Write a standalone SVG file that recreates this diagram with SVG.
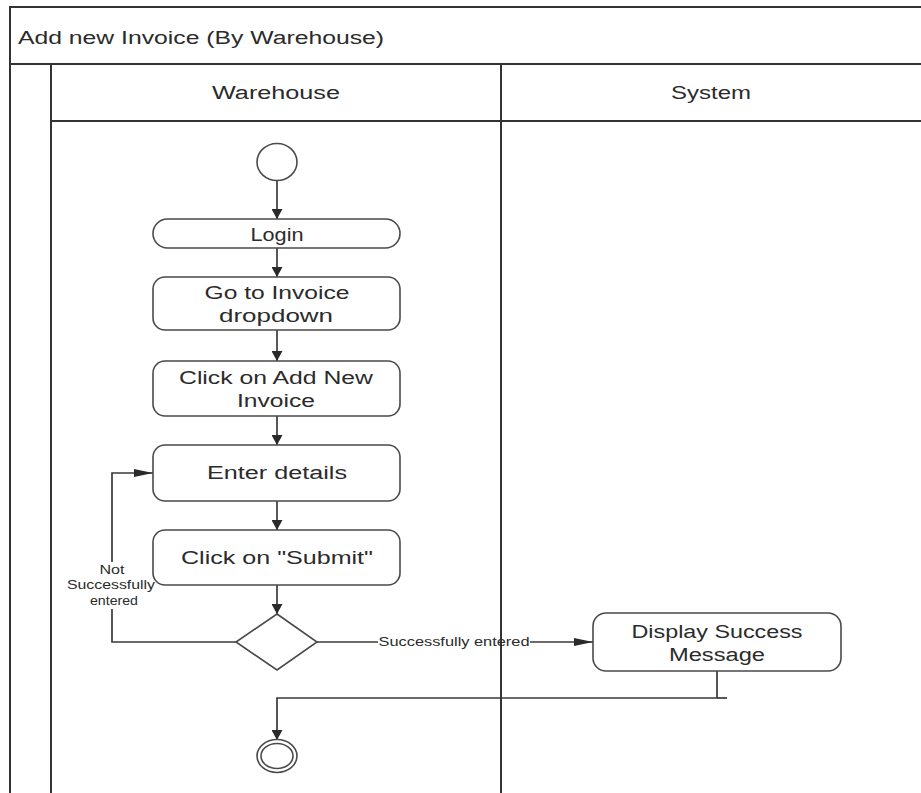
<svg xmlns="http://www.w3.org/2000/svg" width="921" height="793" viewBox="0 0 921 793">
  <style>
    .frame { fill: none; stroke: #333333; stroke-width: 2; }
    .node { fill: #ffffff; stroke: #4a4a4a; stroke-width: 1.6; }
    .edge { fill: none; stroke: #3a3a3a; stroke-width: 1.7; }
    .label { font-family: "Liberation Sans", Arial, sans-serif; fill: #2b2b2b; text-anchor: middle; }
    .nodeText { font-size: 18px; }
    .small { font-size: 12.5px; }
  </style>
  <defs>
    <marker id="arrow" viewBox="0 0 10 10" refX="10" refY="5" markerWidth="10" markerHeight="11" markerUnits="userSpaceOnUse" orient="auto" preserveAspectRatio="none">
      <path d="M0,0 L10,5 L0,10 Z" fill="#2a2a2a"/>
    </marker>
    <marker id="arrowH" viewBox="0 0 10 10" refX="10" refY="5" markerWidth="19" markerHeight="8" markerUnits="userSpaceOnUse" orient="auto" preserveAspectRatio="none">
      <path d="M0,0 L10,5 L0,10 Z" fill="#2a2a2a"/>
    </marker>
  </defs>

  <rect width="921" height="793" fill="#ffffff"/>

  <!-- pool and swimlanes -->
  <g id="pool">
    <path class="frame" d="M10,793 V7 H921"/>
    <path class="frame" d="M10,64 H921"/>
    <path class="frame" d="M51,64 V793"/>
    <path class="frame" d="M51,121 H921"/>
    <path class="frame" d="M501,64 V793"/>
    <text class="label" x="18" y="44" font-size="18" style="text-anchor:start" textLength="366" lengthAdjust="spacingAndGlyphs">Add new Invoice (By Warehouse)</text>
    <text class="label" x="276" y="99" font-size="18" textLength="128" lengthAdjust="spacingAndGlyphs">Warehouse</text>
    <text class="label" x="711" y="99" font-size="18" textLength="80" lengthAdjust="spacingAndGlyphs">System</text>
  </g>

  <!-- connectors -->
  <g id="connectors">
    <line class="edge" x1="277" y1="181" x2="277" y2="219" marker-end="url(#arrow)"/>
    <line class="edge" x1="277" y1="248" x2="277" y2="277" marker-end="url(#arrow)"/>
    <line class="edge" x1="277" y1="330" x2="277" y2="361" marker-end="url(#arrow)"/>
    <line class="edge" x1="277" y1="416" x2="277" y2="445" marker-end="url(#arrow)"/>
    <line class="edge" x1="277" y1="501" x2="277" y2="530" marker-end="url(#arrow)"/>
    <line class="edge" x1="277" y1="585" x2="277" y2="614" marker-end="url(#arrow)"/>
    <!-- retry branch, broken around its label -->
    <polyline class="edge" points="236,642 112,642 112,609"/>
    <polyline class="edge" points="112,562 112,473 153,473" marker-end="url(#arrowH)"/>
    <text class="label small" x="112" y="574" textLength="25" lengthAdjust="spacingAndGlyphs">Not</text>
    <text class="label small" x="111" y="589" textLength="88" lengthAdjust="spacingAndGlyphs">Successfully</text>
    <text class="label small" x="114" y="605" textLength="48" lengthAdjust="spacingAndGlyphs">entered</text>
    <!-- success branch, broken around its label -->
    <line class="edge" x1="317" y1="642" x2="378" y2="642"/>
    <line class="edge" x1="530" y1="642" x2="593" y2="642" marker-end="url(#arrowH)"/>
    <text class="label small" x="454" y="646" textLength="151" lengthAdjust="spacingAndGlyphs">Successfully entered</text>
    <!-- join to final node -->
    <polyline class="edge" points="717,671 717,698 277,698 277,740" marker-end="url(#arrow)"/>
    <line class="edge" x1="717" y1="698" x2="727" y2="698"/>
  </g>

  <g id="start">
    <ellipse class="node" cx="277" cy="162" rx="20" ry="18.5"/>
  </g>

  <g id="login">
    <rect class="node" x="153" y="219" width="247" height="29" rx="14.5" ry="14.5"/>
    <text class="label nodeText" x="277" y="241" textLength="53" lengthAdjust="spacingAndGlyphs">Login</text>
  </g>

  <g id="goToInvoice">
    <rect class="node" x="153" y="277" width="247" height="53" rx="12" ry="12"/>
    <text class="label nodeText" x="277" y="299" textLength="145" lengthAdjust="spacingAndGlyphs">Go to Invoice</text>
    <text class="label nodeText" x="276" y="322" textLength="114" lengthAdjust="spacingAndGlyphs">dropdown</text>
  </g>

  <g id="clickAddNew">
    <rect class="node" x="153" y="361" width="247" height="55" rx="12" ry="12"/>
    <text class="label nodeText" x="276" y="384" textLength="194" lengthAdjust="spacingAndGlyphs">Click on Add New</text>
    <text class="label nodeText" x="276" y="407" textLength="78" lengthAdjust="spacingAndGlyphs">Invoice</text>
  </g>

  <g id="enterDetails">
    <rect class="node" x="153" y="445" width="247" height="56" rx="12" ry="12"/>
    <text class="label nodeText" x="277" y="479" textLength="140" lengthAdjust="spacingAndGlyphs">Enter details</text>
  </g>

  <g id="clickSubmit">
    <rect class="node" x="153" y="530" width="247" height="55" rx="12" ry="12"/>
    <text class="label nodeText" x="277" y="564" textLength="192" lengthAdjust="spacingAndGlyphs">Click on "Submit"</text>
  </g>

  <g id="decision">
    <polygon class="node" points="277,614 317,642 277,670 236,642"/>
  </g>

  <g id="displaySuccess">
    <rect class="node" x="593" y="613" width="248" height="58" rx="13" ry="13"/>
    <text class="label nodeText" x="717" y="638" textLength="171" lengthAdjust="spacingAndGlyphs">Display Success</text>
    <text class="label nodeText" x="717" y="661" textLength="96" lengthAdjust="spacingAndGlyphs">Message</text>
  </g>

  <g id="end">
    <ellipse class="node" cx="277" cy="756" rx="20" ry="16.5"/>
    <ellipse class="node" cx="277" cy="756" rx="16" ry="12.5"/>
  </g>
</svg>
